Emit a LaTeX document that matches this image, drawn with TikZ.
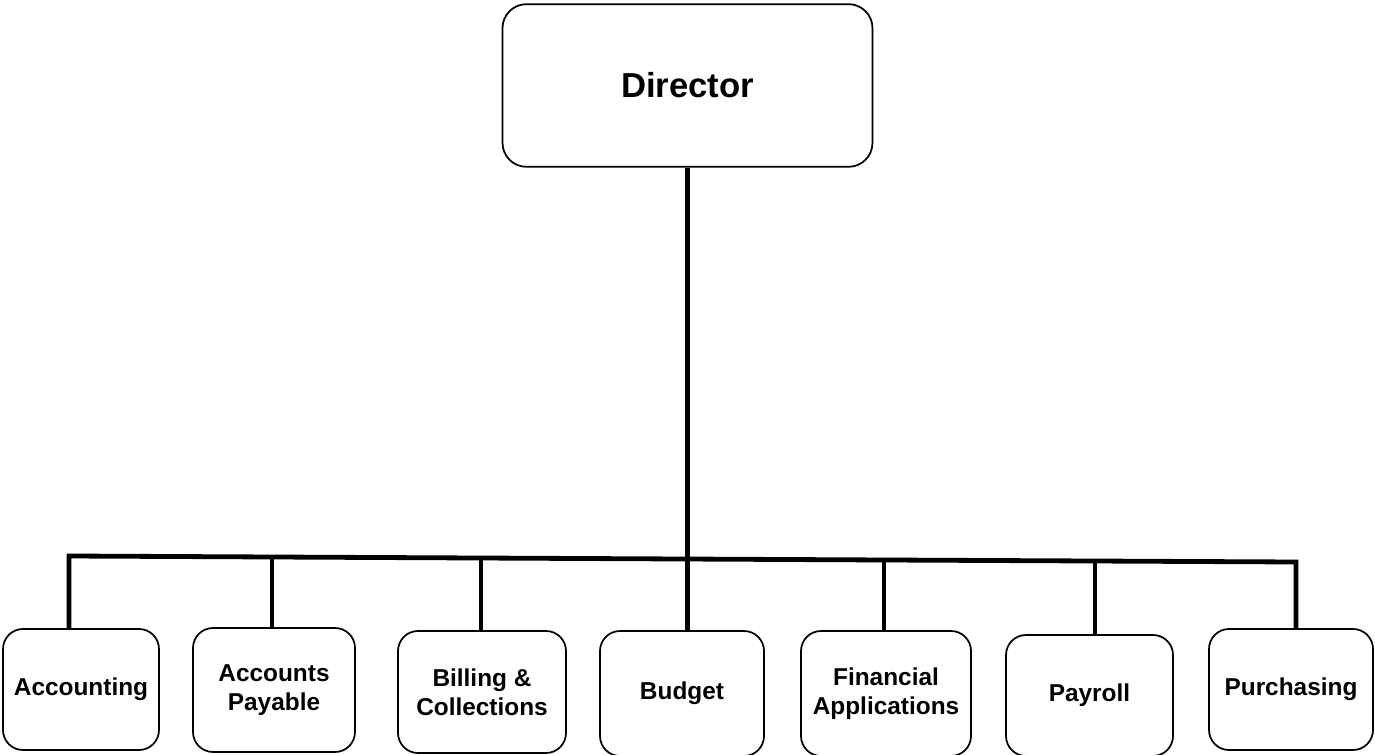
\documentclass[tikz,border=0pt]{standalone}
\usepackage{fontspec}
\setmainfont{Liberation Sans}
\usetikzlibrary{calc}

\begin{document}
\begin{tikzpicture}[
    x=0.75pt, y=-0.75pt,
    topbox/.style={rectangle, draw, line width=1.3pt, rounded corners=18pt, minimum width=277.5pt, minimum height=122pt, align=center, font=\fontsize{26}{30}\selectfont\bfseries},
    unitbox/.style={rectangle, draw, line width=1.3pt, rounded corners=15pt, inner sep=0pt, align=center, font=\fontsize{18.3}{21.75}\selectfont\bfseries},
    link/.style={line width=3.6pt, miter limit=10},
]
\useasboundingbox (0,0) rectangle (1375,755);

% ============ Director (top) ============
\node[topbox] (director) at (687.5,85.5) {Director};

% ============ Units (bottom row) ============
\node[unitbox, minimum width=117pt, minimum height=90.75pt] (accounting) at (81,689.5) {Accounting};
\node[unitbox, minimum width=121.5pt, minimum height=93pt] (payable) at (274,690) {Accounts\\Payable};
\node[unitbox, minimum width=126pt, minimum height=91.5pt] (billing) at (482,692) {Billing \&\\Collections};
\node[unitbox, minimum width=123pt, minimum height=93.75pt] (budget) at (682,693.5) {Budget};
\node[unitbox, minimum width=127.5pt, minimum height=93.75pt] (financial) at (886,693.5) {Financial\\Applications};
\node[unitbox, minimum width=125.25pt, minimum height=90.75pt] (payroll) at (1089.5,695.5) {Payroll};
\node[unitbox, minimum width=123pt, minimum height=90.75pt] (purchasing) at (1291,689.5) {Purchasing};

% ============ Bus joints ============
\coordinate (j1) at (69,556);
\coordinate (j2) at (272,557);
\coordinate (j3) at (481,558);
\coordinate (j4) at (687.5,559);
\coordinate (j5) at (884,560);
\coordinate (j6) at (1095,561);
\coordinate (j7) at (1296,562);

% ============ Lines ============
% Director -> bus
\draw[link] (director.south) -- (j4);

% bus with the two outer drops
\draw[link] (j1 |- accounting.north) -- (j1) -- (j7) -- (j7 |- purchasing.north);

% inner drops
\draw[link] (j2) -- (j2 |- payable.north);
\draw[link] (j3) -- (j3 |- billing.north);
\draw[link] (j4) -- (j4 |- budget.north);
\draw[link] (j5) -- (j5 |- financial.north);
\draw[link] (j6) -- (j6 |- payroll.north);

\end{tikzpicture}
\end{document}
